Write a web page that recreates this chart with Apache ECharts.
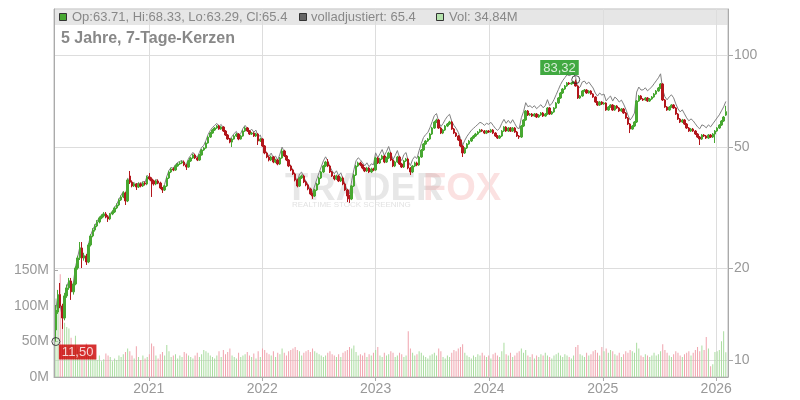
<!DOCTYPE html>
<html><head><meta charset="utf-8">
<script src="https://cdn.jsdelivr.net/npm/echarts@6/dist/echarts.min.js"></script>
<style>html,body{margin:0;padding:0;background:#fff}#c{width:800px;height:400px}</style>
</head><body><div id="c"></div>
<script>
// weekly candles [open, high, low, close], first week starting 2020-03-08
const weeklyOHLC = [
[12.55,15.16,11.50,14.60],[14.38,16.99,14.17,16.36],[16.40,17.90,14.80,15.05],[15.05,15.30,12.65,13.74],[13.74,16.60,13.50,16.24],
[16.24,17.70,16.00,17.25],[17.25,18.60,17.00,18.18],[18.18,18.60,15.75,16.74],[16.74,18.00,16.40,17.77],[17.77,20.30,17.60,20.05],
[20.05,22.00,19.80,21.64],[21.64,24.41,21.30,23.33],[23.33,24.40,20.05,21.64],[21.64,22.50,21.20,21.97],[21.97,22.30,20.52,20.99],
[20.99,24.20,20.80,23.87],[23.87,25.90,23.60,25.55],[25.55,27.10,25.30,26.73],[26.73,27.90,26.40,27.55],[27.55,28.80,27.30,28.40],
[28.40,29.60,28.10,29.27],[29.27,30.10,29.00,29.71],[29.71,30.60,29.40,30.17],[30.17,30.60,29.20,29.49],[29.49,29.90,28.40,29.05],
[29.05,30.40,28.80,30.17],[30.17,31.00,29.90,30.63],[30.63,31.90,30.40,31.58],[31.58,32.70,31.30,32.29],[32.29,33.90,32.00,33.54],
[33.54,34.70,33.30,34.31],[34.31,35.80,34.00,35.36],[35.36,35.70,32.29,33.29],[33.29,39.40,33.00,39.01],[40.20,41.75,37.84,38.42],
[38.42,38.90,36.90,37.28],[37.28,38.30,37.00,37.84],[37.84,38.10,36.17,37.00],[37.00,38.20,36.70,37.84],[37.84,38.30,36.90,37.28],
[37.28,38.50,37.00,38.13],[38.13,38.60,37.40,37.84],[37.84,40.30,37.50,39.90],[39.90,41.10,38.90,39.31],[39.31,39.80,34.31,38.71],
[38.71,39.10,37.40,37.84],[37.84,39.10,37.50,38.71],[38.71,39.20,37.80,38.13],[38.13,38.50,36.40,36.72],[36.72,37.00,35.36,36.17],
[36.17,37.60,35.90,37.28],[37.28,40.00,37.00,39.61],[39.61,41.80,39.30,41.44],[41.44,42.80,41.10,42.39],[42.39,42.90,41.70,42.07],
[42.07,43.70,41.80,43.36],[43.36,44.40,43.10,44.02],[44.02,44.80,43.70,44.36],[44.36,45.10,44.00,44.69],[44.69,45.20,43.30,43.69],
[43.69,44.00,42.07,43.03],[43.03,45.40,42.80,45.03],[45.03,46.40,44.70,46.06],[46.06,47.50,45.80,47.12],[47.12,47.60,45.70,46.06],
[46.06,46.40,45.00,45.37],[45.37,47.50,45.10,47.12],[47.12,49.30,46.90,48.93],[48.93,50.10,48.60,49.67],[49.67,52.00,49.40,51.59],
[51.59,54.40,51.30,53.97],[53.97,56.10,53.60,55.62],[55.62,57.40,55.30,56.91],[56.91,58.20,56.50,57.78],[57.78,59.10,57.40,58.65],
[58.65,59.20,57.00,57.34],[57.34,58.60,57.00,58.21],[58.21,58.60,56.10,56.48],[56.48,56.90,54.40,54.80],[54.80,55.20,52.80,53.17],
[53.17,53.60,51.50,51.96],[51.96,53.60,50.06,53.17],[53.17,54.80,52.90,54.39],[54.39,55.70,54.00,55.21],[55.21,55.60,52.70,53.17],
[53.17,54.80,52.90,54.39],[54.39,56.90,54.10,56.48],[56.48,58.40,56.10,57.78],[57.78,58.20,56.10,56.48],[56.48,56.90,54.80,55.21],
[55.21,56.10,54.80,55.62],[55.62,56.00,54.00,54.39],[54.39,55.70,54.00,55.21],[55.21,55.60,50.82,52.37],[52.37,53.60,52.00,53.17],
[53.17,53.50,50.00,50.44],[50.44,50.80,47.40,47.84],[47.84,48.20,46.00,46.41],[46.41,46.80,44.90,45.37],[45.37,46.90,45.00,46.41],
[46.41,46.80,44.30,44.69],[44.69,45.80,44.30,45.37],[45.37,45.70,43.60,44.02],[44.02,46.40,43.70,46.06],[46.06,49.30,45.80,48.56],
[48.56,49.00,46.40,46.76],[46.76,47.10,45.00,45.37],[45.37,45.70,43.00,43.36],[43.36,43.70,41.70,42.07],[42.07,42.40,40.50,40.82],
[40.82,41.20,38.60,39.01],[39.01,39.40,36.90,37.28],[37.28,40.00,37.00,39.61],[39.61,40.60,39.30,40.20],[40.20,40.60,38.10,38.42],
[38.42,38.80,37.20,37.56],[37.56,37.90,36.10,36.45],[36.45,36.80,34.80,35.10],[35.10,35.50,33.80,34.57],[34.57,36.50,34.30,36.17],
[36.17,38.20,35.90,37.84],[37.84,40.00,37.50,39.61],[39.61,41.80,39.30,41.44],[41.44,43.70,41.10,43.36],[43.36,45.10,43.00,44.69],
[44.69,45.71,43.00,43.36],[43.36,43.70,41.10,41.44],[41.44,41.80,39.90,40.20],[40.20,40.60,38.90,39.31],[39.31,40.60,39.00,40.20],
[40.20,40.50,38.40,38.71],[38.71,40.00,38.40,39.61],[39.61,40.00,37.50,37.84],[37.84,38.20,35.90,36.17],[36.17,36.50,33.03,34.57],
[34.57,34.90,32.80,33.80],[33.80,37.60,33.50,37.28],[37.28,40.90,37.00,40.51],[40.51,43.70,40.20,43.36],[43.36,44.80,43.00,44.36],
[44.36,44.80,43.30,43.69],[43.69,44.00,42.30,42.71],[42.71,43.00,41.40,41.75],[41.75,43.10,41.40,42.71],[42.71,43.00,41.10,41.44],
[41.44,42.80,41.10,42.39],[42.39,42.80,41.70,42.07],[42.07,46.50,41.80,46.06],[46.06,46.40,44.00,44.36],[44.36,46.10,44.00,45.71],
[45.71,47.20,45.40,46.76],[46.76,47.10,44.30,44.69],[44.69,46.50,44.40,46.06],[46.06,48.30,45.70,47.84],[47.84,48.20,45.00,45.37],
[45.37,45.70,43.00,43.36],[43.36,45.10,43.00,44.69],[44.69,46.80,44.40,46.41],[46.41,46.80,43.70,44.02],[44.02,44.40,42.70,43.03],
[43.03,45.40,42.70,45.03],[45.03,46.10,44.70,45.71],[45.71,46.10,42.30,42.71],[42.71,43.00,40.51,41.44],[41.44,43.70,41.10,43.36],
[43.36,44.80,43.00,44.36],[44.36,44.80,43.30,43.69],[43.69,46.80,43.40,46.41],[46.41,49.30,46.10,48.93],[48.93,51.60,48.60,51.21],
[51.21,52.80,50.90,52.37],[52.37,53.60,52.00,53.17],[53.17,55.70,52.80,55.21],[55.21,58.30,54.80,57.78],[57.78,61.00,57.40,60.46],
[60.46,62.00,60.00,61.38],[61.38,61.80,57.40,57.78],[57.78,58.20,55.20,55.62],[55.62,57.40,55.20,56.91],[56.91,59.10,56.50,58.65],
[58.65,60.00,58.20,59.55],[59.55,61.00,59.10,60.46],[60.46,60.90,57.00,57.34],[57.34,57.80,55.20,55.62],[55.62,56.00,54.00,54.39],
[54.39,54.80,52.40,52.77],[52.77,53.20,50.00,50.44],[50.44,50.80,46.41,47.84],[47.84,50.00,47.50,49.67],[49.67,51.60,49.30,51.21],
[51.21,52.80,50.90,52.37],[52.37,54.00,52.00,53.57],[53.57,54.80,53.20,54.39],[54.39,55.70,54.00,55.21],[55.21,56.50,54.80,56.05],
[56.05,57.40,55.70,56.91],[56.91,57.30,56.10,56.48],[56.48,56.90,55.20,55.62],[55.62,56.90,55.20,56.48],[56.48,56.90,55.70,56.05],
[56.05,57.40,55.70,56.91],[56.91,57.30,55.20,55.62],[55.62,56.00,54.00,54.39],[54.39,54.80,53.20,53.57],[53.57,54.80,53.20,54.39],
[54.39,56.90,54.00,56.48],[56.48,58.60,56.10,58.21],[58.21,58.60,56.10,56.48],[56.48,58.20,56.10,57.78],[57.78,58.20,56.10,56.48],
[56.48,58.20,56.10,57.78],[57.78,58.20,55.70,56.05],[56.05,56.50,54.00,54.39],[54.39,54.80,53.20,53.97],[53.97,59.10,53.60,58.65],
[58.65,61.80,58.20,61.38],[61.38,66.20,61.00,65.71],[65.71,66.20,63.30,63.75],[63.75,64.70,63.30,64.23],[64.23,64.70,62.80,63.27],
[63.27,64.70,62.90,64.23],[64.23,64.70,62.30,62.79],[62.79,64.20,62.40,63.75],[63.75,65.20,63.30,64.72],[64.72,65.20,62.80,63.27],
[63.27,64.70,62.90,64.23],[64.23,67.70,63.80,67.23],[67.23,67.70,63.80,64.23],[64.23,65.70,63.80,65.21],[65.21,67.70,64.80,67.23],
[67.23,70.30,66.80,69.81],[69.81,73.00,69.30,72.50],[72.50,75.90,72.00,75.30],[75.30,78.20,74.80,77.61],[77.61,80.00,77.10,79.40],
[79.40,81.80,78.90,81.22],[81.22,81.80,80.00,80.61],[80.61,81.90,80.10,81.22],[81.22,82.50,80.60,81.84],[81.84,83.32,79.00,79.40],
[79.40,79.80,72.00,72.50],[72.50,74.10,72.00,73.61],[73.61,77.00,73.20,76.45],[76.45,77.60,76.00,77.02],[77.02,77.50,74.80,75.30],
[75.30,76.90,74.90,76.44],[76.44,76.90,74.30,74.74],[74.74,75.20,72.60,73.06],[73.06,73.50,69.90,70.34],[70.34,70.80,68.30,68.76],
[68.76,70.80,68.30,70.34],[70.34,70.80,68.80,69.28],[69.28,70.30,68.80,69.81],[69.81,70.20,65.80,66.21],[66.21,68.20,65.80,67.74],
[67.74,69.20,67.30,68.76],[68.76,69.20,65.80,66.21],[66.21,68.70,65.80,68.24],[68.24,68.70,66.80,67.23],[67.23,67.70,65.20,65.71],
[65.71,67.20,65.30,66.71],[66.71,67.20,64.30,64.72],[64.72,65.20,61.90,62.32],[62.32,62.80,59.10,59.55],[59.55,60.00,55.62,57.34],
[57.34,59.10,57.00,58.65],[58.65,60.90,58.20,60.46],[60.46,71.40,60.00,70.87],[70.87,74.20,70.40,73.61],[73.61,74.10,71.50,71.96],
[71.96,72.40,70.90,71.41],[71.41,73.00,71.00,72.50],[72.50,73.00,70.40,70.87],[70.87,72.50,70.40,71.96],[71.96,73.60,71.50,73.06],
[73.06,75.30,72.60,74.74],[74.74,77.00,74.30,76.44],[76.44,78.80,76.00,78.19],[78.19,81.20,77.70,80.61],[80.61,81.10,70.90,71.41],
[71.41,71.90,67.30,67.74],[67.74,68.20,65.80,66.21],[66.21,68.20,65.80,67.74],[67.74,69.20,67.30,68.76],[68.76,69.20,66.80,67.23],
[67.23,67.70,63.80,64.23],[64.23,64.70,61.40,61.85],[61.85,62.30,60.00,60.46],[60.46,61.90,60.00,61.38],[61.38,61.80,59.10,59.55],
[59.55,60.00,57.40,57.78],[57.78,58.20,56.10,56.48],[56.48,57.80,56.10,57.34],[57.34,57.80,56.10,56.48],[56.48,56.90,54.80,55.21],
[55.21,55.60,53.60,53.97],[53.97,54.40,50.82,53.17],[53.17,55.20,52.80,54.80],[54.80,55.20,54.00,54.39],[54.39,54.80,53.20,53.57],
[53.57,55.20,53.20,54.80],[54.80,55.20,53.60,53.97],[53.97,55.60,53.60,55.21],[55.21,56.90,51.59,56.48],[56.48,58.20,56.10,57.78],
[57.78,59.50,57.40,59.10],[59.10,61.40,58.70,60.92],[60.92,63.30,60.50,62.79],[63.71,68.33,63.29,65.40]
];

// "volladjustiert" line
const adjusted = [
14.67,16.44,15.13,13.81,16.32,17.34,18.27,16.82,17.86,20.15,
21.75,23.45,21.75,22.08,21.09,23.99,25.68,26.86,27.69,28.54,
29.42,29.86,30.32,29.64,29.20,30.32,30.78,31.74,32.45,33.71,
34.72,35.78,33.69,39.48,38.88,37.73,38.29,37.44,38.29,37.73,
38.59,38.29,40.38,39.78,39.17,38.29,39.17,38.59,37.16,36.60,
37.73,40.09,41.94,42.90,42.57,43.88,44.55,44.89,45.23,44.21,
43.89,45.93,46.98,48.06,46.98,46.28,48.06,49.91,50.66,52.62,
55.05,56.73,58.05,58.94,59.82,58.49,59.37,57.61,55.90,54.23,
53.00,54.23,55.48,56.31,54.23,55.48,57.61,58.94,57.61,56.31,
57.29,56.02,56.87,53.94,54.77,51.95,49.28,47.80,46.73,47.80,
46.03,46.73,45.34,47.44,50.02,48.16,46.73,44.66,43.33,42.04,
40.18,38.40,40.80,41.41,39.57,38.69,37.54,36.15,35.61,37.26,
39.35,41.19,43.10,45.09,46.48,45.09,43.10,41.81,40.88,41.81,
40.26,41.19,39.35,37.62,35.95,35.15,38.77,42.13,45.09,46.13,
45.44,44.42,43.42,44.42,43.10,44.09,43.75,47.90,46.13,47.54,
49.10,46.92,48.36,50.23,47.64,45.53,46.92,48.73,46.22,45.18,
47.28,48.00,44.85,43.51,45.53,46.58,45.87,48.73,51.38,53.77,
54.99,55.83,57.97,60.67,63.48,64.45,60.67,58.40,59.76,61.58,
63.12,64.09,60.78,58.96,57.65,55.94,53.47,50.71,52.65,54.28,
55.51,56.78,57.65,58.52,59.41,60.32,59.87,58.96,59.87,59.41,
60.32,58.96,57.65,56.78,57.65,59.87,61.70,59.87,61.25,59.87,
61.54,59.69,57.93,57.48,62.46,65.37,69.98,67.89,68.40,67.38,
68.40,66.87,67.89,68.93,67.38,68.40,71.60,68.40,69.45,71.60,
74.35,77.21,80.19,82.65,84.56,86.50,85.85,86.50,87.16,84.56,
77.58,78.76,81.80,82.41,80.57,81.79,79.97,78.17,75.26,73.57,
75.26,74.13,74.70,70.84,72.48,73.57,70.84,73.02,71.94,70.31,
71.38,69.25,66.68,63.72,61.35,62.76,64.69,75.83,78.76,77.00,
77.12,78.30,76.54,77.72,78.90,80.72,82.56,84.45,87.06,77.12,
73.16,71.51,73.16,74.26,72.61,69.37,66.80,65.30,66.29,64.31,
62.40,61.00,61.93,61.00,59.63,58.29,57.42,59.18,58.74,57.86,
59.18,58.29,59.63,61.00,62.40,63.83,65.79,67.81,70.63
];

// weekly volume in millions
const volumeM = [
110,95,144,100,76,70,68,55,45,58,
40,38,42,30,47,35,28,30,26,24,
30,22,25,33,30,28,22,26,24,30,
28,32,35,40,36,30,26,43,28,24,
30,26,28,32,47,43,30,26,32,35,
30,45,36,28,30,32,26,30,28,35,
33,30,28,26,30,34,28,32,38,36,
34,30,28,26,30,36,28,38,32,35,
40,30,28,26,34,28,30,32,35,30,
28,33,26,36,28,40,38,34,32,30,
36,28,34,32,40,34,30,36,38,40,
42,38,36,30,34,36,38,35,40,36,
34,32,30,28,30,34,36,32,30,28,
32,28,34,36,38,42,40,44,35,30,
32,30,34,28,32,30,34,38,42,30,
28,34,30,32,36,34,28,30,34,32,
28,30,64,40,34,30,32,36,34,30,
28,26,30,32,34,30,40,36,28,26,
30,28,34,38,36,40,42,46,34,30,
28,26,30,28,32,30,34,30,28,30,
26,32,34,30,28,36,48,32,30,34,
28,30,34,36,40,34,38,30,28,32,
26,30,28,32,30,34,30,28,26,30,
32,34,30,28,32,30,28,26,30,42,
45,32,30,28,34,30,32,36,38,34,
30,42,36,40,34,38,36,32,30,34,
28,32,36,34,38,36,34,48,40,30,
28,32,30,28,30,34,30,32,36,46,
38,34,30,28,32,36,34,30,28,32,
34,36,30,34,38,42,36,44,38,56,
40,15,18,35,36,38,50,64,34.84
];

const yearTicks = ['2021-01-01','2022-01-01','2023-01-01','2024-01-01','2025-01-01','2026-01-01'];
const priceTicks = [10, 20, 50, 100];
const volumeTicks = [0, 50, 100, 150];
const legendTexts = ['Op:63.71, Hi:68.33, Lo:63.29, Cl:65.4', 'volladjustiert: 65.4', 'Vol: 34.84M'];
const titleText = '5 Jahre, 7-Tage-Kerzen';
const highMark = { week: 239, value: 83.32, text: '83,32' };
const lowMark = { week: 0, value: 11.50, text: '11,50' };

const DAY = 86400000;
const firstWeek = Date.UTC(2020, 2, 8);
const dates = weeklyOHLC.map((_, i) => firstWeek + i * 7 * DAY);
const yearTs = yearTicks.map(s => Date.parse(s + 'T00:00:00Z'));

const UP = '#48a832', DOWN = '#b3161c', VUP = '#a9dc9f', VDOWN = '#f0a3ad';
const FONT = 'Liberation Sans, Arial, sans-serif';

const candleData = weeklyOHLC.map((r, i) => [dates[i], r[0], r[3], r[2], r[1]]);
const volData = volumeM.map((v, i) => ({
  value: [dates[i], v],
  itemStyle: { color: weeklyOHLC[i][3] >= weeklyOHLC[i][0] ? VUP : VDOWN }
}));
const adjData = adjusted.map((v, i) => [dates[i], v]);

const chart = echarts.init(document.getElementById('c'), null, { renderer: 'canvas' });
chart.setOption({
  animation: false,
  backgroundColor: '#fff',
  grid: { left: 54, right: 72, top: 9, bottom: 23, show: true, borderColor: '#bdbdbd', borderWidth: 1, backgroundColor: 'transparent' },
  xAxis: {
    type: 'value',
    min: Date.UTC(2020, 2, 2), max: Date.UTC(2026, 1, 8),
    axisLine: { show: true, lineStyle: { color: '#aaa' } },
    axisTick: { show: true, length: 4, lineStyle: { color: '#aaa' }, customValues: yearTs },
    axisLabel: { customValues: yearTs, formatter: v => String(new Date(v).getUTCFullYear()), color: '#999', fontSize: 14, fontFamily: FONT, margin: 5 },
    splitLine: { show: true, lineStyle: { color: '#ddd', width: 1 } }
  },
  yAxis: [
    {
      type: 'value', position: 'left', min: 0, max: 516,
      axisLine: { show: true, lineStyle: { color: '#aaa' } },
      axisTick: { show: true, inside: true, length: 4, lineStyle: { color: '#aaa' }, customValues: volumeTicks },
      axisLabel: { customValues: volumeTicks, formatter: v => v + 'M', color: '#999', fontSize: 14, fontFamily: FONT, margin: 5 },
      splitLine: { show: false }
    },
    {
      type: 'log', logBase: 10, position: 'right', min: 8.795, max: 142.1,
      axisLine: { show: true, lineStyle: { color: '#aaa' } },
      axisTick: { show: true, length: 5, lineStyle: { color: '#aaa' }, customValues: priceTicks },
      axisLabel: { customValues: priceTicks, color: '#999', fontSize: 14, fontFamily: FONT, margin: 6 },
      splitLine: { show: true, lineStyle: { color: '#ddd', width: 1 } },
      minorTick: { show: false }
    }
  ],
  graphic: [
    { type: 'rect', z: -5, silent: true, shape: { x: 54.5, y: 9.5, width: 673, height: 15.5 }, style: { fill: '#e6e6e6' } },
    { type: 'rect', z: 10, shape: { x: 59.5, y: 13.5, width: 7, height: 7 }, style: { fill: UP, stroke: '#333', lineWidth: 1 } },
    { type: 'text', z: 10, x: 72, y: 17.5, style: { text: legendTexts[0], fill: '#888', font: '13px ' + FONT, textVerticalAlign: 'middle' } },
    { type: 'rect', z: 10, shape: { x: 299.5, y: 13.5, width: 7, height: 7 }, style: { fill: '#666', stroke: '#333', lineWidth: 1 } },
    { type: 'text', z: 10, x: 311, y: 17.5, style: { text: legendTexts[1], fill: '#888', font: '13px ' + FONT, textVerticalAlign: 'middle' } },
    { type: 'rect', z: 10, shape: { x: 436.5, y: 13.5, width: 7, height: 7 }, style: { fill: '#b5e3ad', stroke: '#333', lineWidth: 1 } },
    { type: 'text', z: 10, x: 449, y: 17.5, style: { text: legendTexts[2], fill: '#888', font: '13px ' + FONT, textVerticalAlign: 'middle' } },
    { type: 'text', z: 10, x: 61, y: 39, style: { text: titleText, fill: '#888', font: 'bold 16px ' + FONT, textVerticalAlign: 'middle' } },
    { type: 'text', z: -4, x: 285, y: 190, style: { text: 'TRADER', fill: 'rgba(180,180,180,0.32)', font: 'bold 38px ' + FONT, textVerticalAlign: 'middle' } },
    { type: 'text', z: -4, x: 423, y: 190, style: { text: 'FOX', fill: 'rgba(235,120,120,0.22)', font: 'bold 38px ' + FONT, textVerticalAlign: 'middle' } },
    { type: 'text', z: -4, x: 292, y: 205, style: { text: 'REALTIME STOCK SCREENING', fill: 'rgba(180,180,180,0.4)', font: '8px ' + FONT, textVerticalAlign: 'middle' } }
  ],
  series: [
    {
      type: 'bar', name: 'Vol', xAxisIndex: 0, yAxisIndex: 0, data: volData,
      barWidth: 1, z: 1, silent: true
    },
    {
      type: 'line', name: 'volladjustiert', yAxisIndex: 1, data: adjData,
      showSymbol: false, symbol: 'none', lineStyle: { color: '#808080', width: 1 }, z: 2, silent: true
    },
    {
      type: 'candlestick', name: 'Kurs', yAxisIndex: 1, data: candleData,
      barWidth: 2, z: 3,
      itemStyle: { color: UP, color0: DOWN, borderColor: UP, borderColor0: DOWN, borderWidth: 1 }
    },
    {
      type: 'scatter', yAxisIndex: 1, z: 5, symbol: 'circle', symbolSize: 8,
      itemStyle: { color: 'rgba(255,255,255,0)', borderColor: '#222', borderWidth: 1 },
      data: [
        { value: [dates[highMark.week], highMark.value],
          label: { show: true, formatter: highMark.text, position: [-31, -15], color: '#fff', backgroundColor: '#119411', padding: [1, 3, 0, 3], fontSize: 13, fontFamily: FONT, lineHeight: 14 } },
        { value: [dates[lowMark.week], lowMark.value],
          label: { show: true, formatter: lowMark.text, position: [7.5, 7.5], color: '#fff', backgroundColor: '#cc0000', padding: [1, 3, 0, 3], fontSize: 13, fontFamily: FONT, lineHeight: 14 } }
      ]
    }
  ]
});
</script>
</body></html>
